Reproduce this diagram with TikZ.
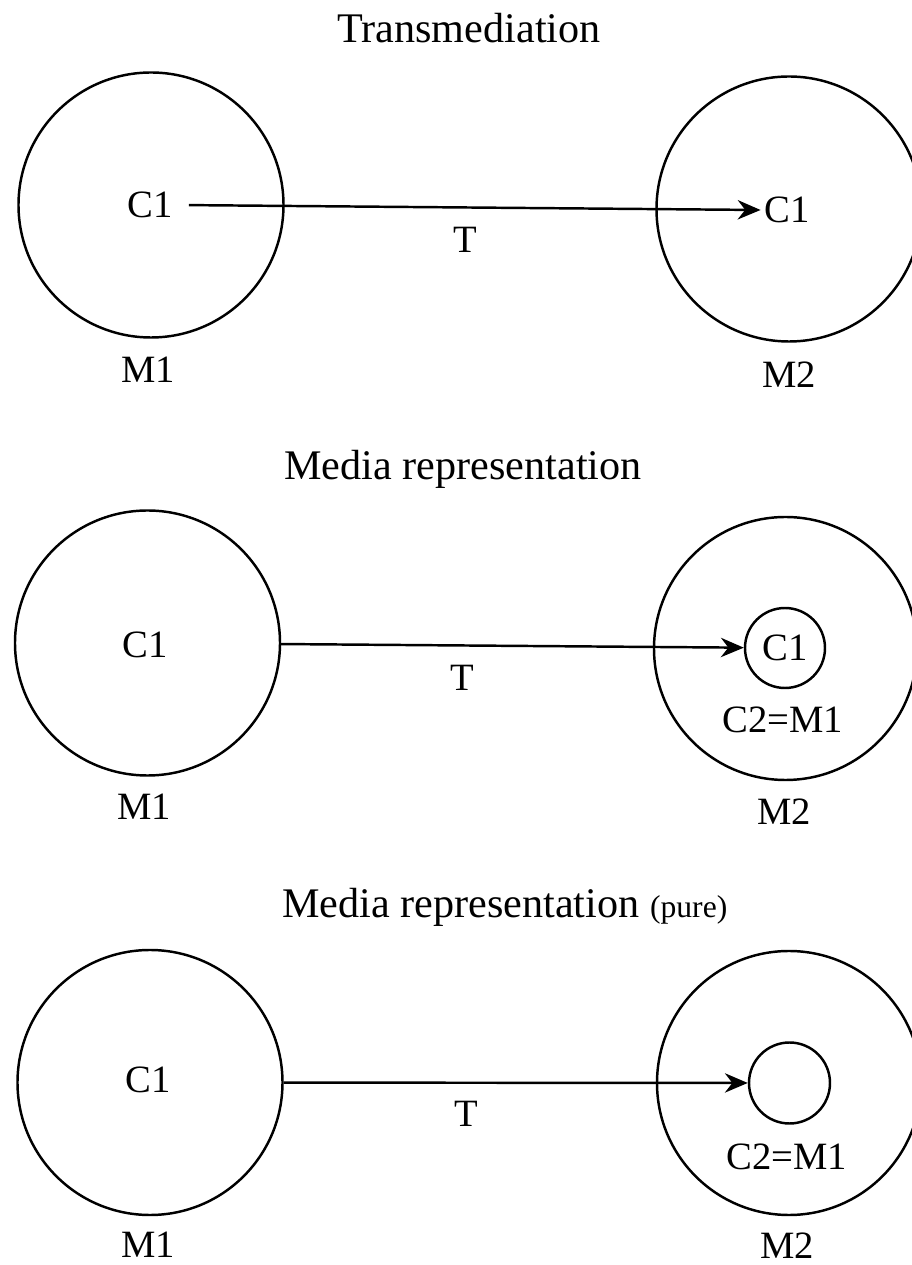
\documentclass[tikz,border=0pt]{standalone}
\usepackage{fontspec}
\setmainfont{Liberation Serif}
\usetikzlibrary{arrows.meta}

\begin{document}
\begin{tikzpicture}[
		mcircle/.style={draw,line width=1.4pt,circle,minimum size=5.3cm},
		ccircle/.style={draw,line width=1.4pt,circle,minimum size=1.6cm,inner sep=0pt,font=\fontsize{22}{26}\selectfont},
		txt/.style={inner sep=2pt,font=\fontsize{22}{26}\selectfont},
		ttl/.style={inner sep=0pt,font=\fontsize{24}{28}\selectfont},
		arr/.style={line width=1.4pt,-{Stealth[length=13pt,width=11pt]}}]
		\useasboundingbox (0,0) rectangle (18.24,25.3);
		
		% Transmediation
		\node[ttl,anchor=base] (title1) at (9.38,24.44) {Transmediation};
		\node[mcircle] (m1a) at (3.02,21.2) {};
		\node[mcircle] (m2a) at (15.78,21.12) {};
		\node[txt] (c1a) at (3,21.2) {C1};
		\node[txt] (c1b) at (15.74,21.1) {C1};
		\draw[arr,shorten <=0.25cm] (c1a.east) -- (c1b.west);
		\node[txt] (ta) at (9.3,20.5) {T};
		\node[txt] (m1alab) at (2.96,17.9) {M1};
		\node[txt] (m2alab) at (15.78,17.8) {M2};
		
		% Media representation
		\node[ttl,anchor=base] (title2) at (9.26,15.7) {Media representation};
		\node[mcircle] (m1b) at (2.95,12.44) {};
		\node[mcircle,minimum size=5.26cm] (m2b) at (15.71,12.33) {};
		\node[txt] (c1c) at (2.9,12.4) {C1};
		\node[ccircle] (c1d) at (15.7,12.34) {C1};
		\node[txt] (c2b) at (15.66,10.9) {C2=M1};
		\draw[arr] (m1b) -- (c1d);
		\node[txt] (tb) at (9.24,11.74) {T};
		\node[txt] (m1blab) at (2.88,9.16) {M1};
		\node[txt] (m2blab) at (15.68,9.06) {M2};
		
		% Media representation (pure)
		\node[ttl,anchor=base west] (title3) at (5.64,6.94) {Media representation {\fontsize{18}{22}\selectfont(pure)}};
		\node[mcircle] (m1c) at (3,3.65) {};
		\node[mcircle,minimum size=5.28cm] (m2c) at (15.78,3.64) {};
		\node[txt] (c1e) at (2.96,3.7) {C1};
		\node[ccircle,minimum size=1.62cm] (c2c) at (15.79,3.64) {};
		\node[txt] (c2lab) at (15.74,2.16) {C2=M1};
		\draw[arr] (m1c) -- (c2c);
		\node[txt] (tc) at (9.32,3.02) {T};
		\node[txt] (m1clab) at (2.96,0.4) {M1};
		\node[txt] (m2clab) at (15.74,0.38) {M2};
		
\end{tikzpicture}
\end{document}
